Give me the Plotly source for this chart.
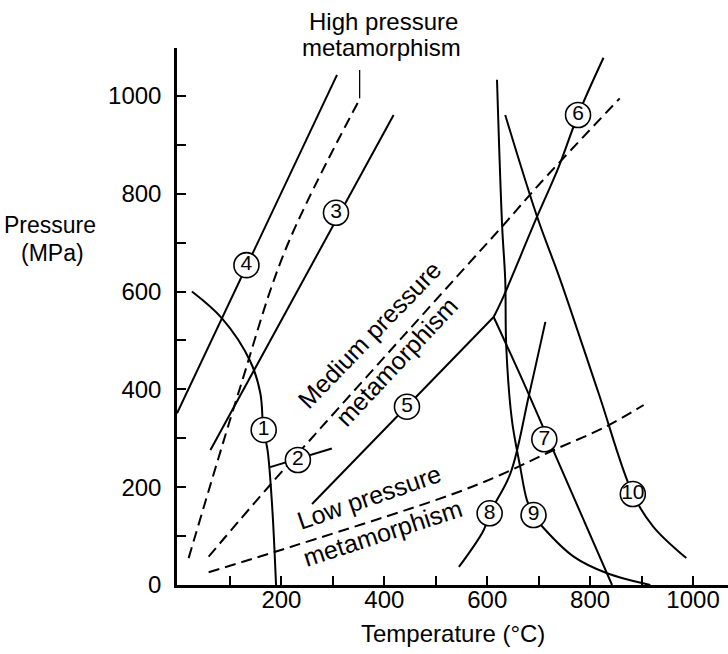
import plotly.graph_objects as go

# ---------------- data ----------------
# x: Temperature (°C), y: Pressure (MPa)
curve1_T = [26, 84.5, 139.6, 159, 165, 173, 182, 189.5]
curve1_P = [600, 545, 457, 392, 317, 276, 160, 0]

line2_T = [178, 298]
line2_P = [241, 279]

line3_T = [62, 418]
line3_P = [276, 961]

line4_T = [-3, 308]
line4_P = [351, 1043]

line5_T = [259.5, 612.5]
line5_P = [165.6, 548]

line6_T = [612.5, 628.7, 696.8, 739, 776.5, 826]
line6_P = [548, 583, 753, 855, 961, 1078]

line7_T = [612.5, 677, 842.6]
line7_P = [548, 399, 0]

curve8_T = [545, 593, 605, 645, 680.5, 713]
curve8_P = [37, 112, 147, 228, 385, 538]

curve9_T = [619, 629, 635, 637, 648, 664, 677, 690, 710, 768, 833, 917]
curve9_P = [1033, 733, 624, 487, 337, 242, 174, 143, 116, 58, 24, 0]

curve10_T = [635, 697, 742, 816.5, 883, 923, 987]
curve10_P = [961, 753, 624, 392, 186, 119, 55]

high_T = [19.6, 120, 207.6, 353]
high_P = [55, 405, 685, 995]
high_leader_T = [352, 352]
high_leader_P = [995, 1053]

medium_T = [58.5, 178, 541, 629, 703, 857.5]
medium_P = [58, 204.5, 630.5, 733, 821.5, 995]

low_T = [58.5, 188, 528, 625.5, 723, 833, 904]
low_P = [26, 68, 184, 225, 273, 325, 368]

label_text = ["1", "2", "3", "4", "5", "6", "7", "8", "9", "10"]
label_T = [165.5, 232, 306, 132, 444, 776.5, 711, 604.7, 690, 883]
label_P = [317, 255.6, 761, 654, 364.6, 961, 298, 146.6, 143, 186]

x_tick_vals = [200, 400, 600, 800, 1000]
x_minor_vals = [100, 300, 500, 700, 900]
y_tick_vals = [0, 200, 400, 600, 800, 1000]
y_minor_vals = [100, 300, 500, 700, 900]

# ---------------- figure ----------------
W, H = 728, 654
ML, MR, MT, MB = 177, 0, 48, 69
FONT = "Liberation Sans, Arial, Helvetica, sans-serif"


def pxx(x):
    return (x - ML) / (W - ML - MR)


def pxy(y):
    return (H - MB - y) / (H - MT - MB)


fig = go.Figure()

solid = dict(color="black", width=2)
dashed = dict(color="black", width=2, dash="11px,6px")


def add(T, P, line, shape="linear"):
    fig.add_trace(go.Scatter(x=T, y=P, mode="lines",
                             line=dict(shape=shape, **line),
                             hoverinfo="skip", showlegend=False))


add(curve1_T, curve1_P, solid, "spline")
add(line2_T, line2_P, solid)
add(line3_T, line3_P, solid)
add(line4_T, line4_P, solid)
add(line5_T, line5_P, solid)
add(line6_T, line6_P, solid, "spline")
add(line7_T, line7_P, solid, "spline")
add(curve8_T, curve8_P, solid, "spline")
add(curve9_T, curve9_P, solid, "spline")
add(curve10_T, curve10_P, solid, "spline")
add(high_T, high_P, dashed, "spline")
add(high_leader_T, high_leader_P, dict(color="black", width=1.3))
add(medium_T, medium_P, dashed, "spline")
add(low_T, low_P, dashed, "spline")

fig.add_trace(go.Scatter(
    x=label_T, y=label_P, mode="markers+text", text=label_text,
    textposition="middle center",
    textfont=dict(family=FONT, size=21, color="black"),
    marker=dict(size=25, color="white", line=dict(color="black", width=1.6)),
    hoverinfo="skip", showlegend=False, cliponaxis=False))

axis_common = dict(
    showgrid=False, zeroline=False, showline=True, linecolor="black",
    linewidth=2.5, ticks="inside", ticklen=9, tickwidth=1.6, tickcolor="black",
    tickfont=dict(family=FONT, size=24, color="black"),
    tickmode="array",
)

fig.update_layout(
    width=W, height=H,
    margin=dict(l=ML, r=MR, t=MT, b=MB, pad=0),
    paper_bgcolor="white", plot_bgcolor="white",
    xaxis=dict(range=[-3, 1068], tickvals=x_tick_vals,
               minor=dict(tickmode="array", tickvals=x_minor_vals, ticks="inside",
                          ticklen=9, tickwidth=1.6, tickcolor="black"),
               ticklabelstandoff=-9, **axis_common),
    yaxis=dict(range=[0, 1098], tickvals=y_tick_vals,
               minor=dict(tickmode="array", tickvals=y_minor_vals, ticks="inside",
                          ticklen=9, tickwidth=1.6, tickcolor="black"),
               ticklabelstandoff=8, **axis_common),
    font=dict(family=FONT, color="black"),
)

ann = []


def text(s, x, y, size=25, angle=0):
    ann.append(dict(text=s, x=pxx(x), y=pxy(y), xref="paper", yref="paper",
                    showarrow=False, textangle=angle, xanchor="center",
                    yanchor="middle", font=dict(family=FONT, size=size, color="black")))


text("High pressure", 383, 21, 24)
text("metamorphism", 381, 47, 24)
text("Pressure", 50, 225, 23)
text("(MPa)", 52, 253, 23)
text("Temperature (°C)", 453, 633, 24)
text("Medium pressure", 369, 335, 25, -46)
text("metamorphism", 396, 362, 25, -47)
text("Low pressure", 369, 497, 25, -19)
text("metamorphism", 382, 533, 25, -18)

fig.update_layout(annotations=ann)

fig.write_html("out.html")
